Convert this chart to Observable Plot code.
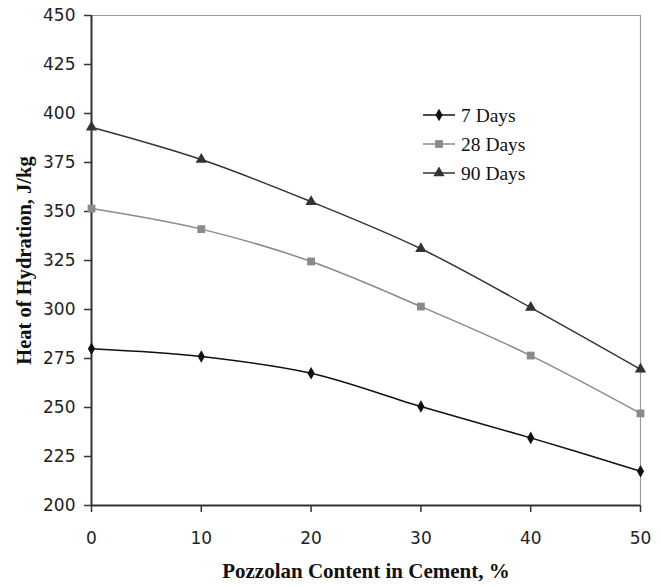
<!DOCTYPE html>
<html>
<head>
<meta charset="utf-8">
<script src="https://cdn.jsdelivr.net/npm/d3@7"></script>
<script src="https://cdn.jsdelivr.net/npm/@observablehq/plot@0.6"></script>
<style>
  html, body { margin: 0; padding: 0; background: #fff; }
  #wrap { position: relative; width: 661px; height: 587px; }
  #legend { position: absolute; left: 0; top: 0; }
</style>
</head>
<body>
<div id="wrap"></div>
<script>
// Data
const pozzolan = [0, 10, 20, 30, 40, 50];
const days7  = [280, 276, 267.5, 250.5, 234.5, 217.5];
const days28 = [351.5, 341, 324.5, 301.5, 276.5, 247];
const days90 = [393, 376.5, 355, 331, 301, 269.5];
const seriesNames = ["7 Days", "28 Days", "90 Days"];
const yTicks = [200, 225, 250, 275, 300, 325, 350, 375, 400, 425, 450];
const xTicks = [0, 10, 20, 30, 40, 50];
const xTitle = "Pozzolan Content in Cement, %";
const yTitle = "Heat of Hydration, J/kg";

const series = [
  {name: seriesNames[0], values: days7,  color: "#111111", symbol: "diamond", r: 3.8},
  {name: seriesNames[1], values: days28, color: "#8a8a8a", symbol: "square",  r: 4.4},
  {name: seriesNames[2], values: days90, color: "#333333", symbol: "triangle", r: 4.2}
];
const rows = series.flatMap(s => pozzolan.map((p, i) => ({x: p, y: s.values[i], name: s.name})));

const marks = [
  Plot.ruleY([450], {stroke: "#9a9a9a", strokeWidth: 1.2}),
  Plot.ruleX([50], {stroke: "#9a9a9a", strokeWidth: 1.2}),
  Plot.axisY({ticks: yTicks, tickSize: 7, tickPadding: 9, tickFormat: d => String(d), label: null,
    fontFamily: "DejaVu Sans", fontSize: 17, fill: "#222", stroke: "#333", strokeWidth: 1.5}),
  Plot.axisX({ticks: xTicks, tickSize: 7, tickPadding: 19, tickFormat: d => String(d), label: null,
    fontFamily: "DejaVu Sans", fontSize: 17, fill: "#222", stroke: "#333", strokeWidth: 1.5}),
  Plot.ruleX([0], {stroke: "#333", strokeWidth: 2}),
  Plot.ruleY([200], {stroke: "#333", strokeWidth: 2}),
];
for (const s of series) {
  const d = rows.filter(r => r.name === s.name);
  marks.push(Plot.line(d, {x: "x", y: "y", stroke: s.color, strokeWidth: 1.5, curve: "catmull-rom"}));
  marks.push(Plot.dot(d, {x: "x", y: "y", symbol: () => s.symbol, r: s.r, fill: s.color, stroke: "none"}));
}
marks.push(Plot.text([xTitle], {frameAnchor: "bottom", textAnchor: "middle", dy: 66, lineAnchor: "middle",
  fontFamily: "Liberation Serif", fontWeight: "bold", fontSize: 21, fill: "#111"}));
marks.push(Plot.text([yTitle], {frameAnchor: "left", textAnchor: "middle", dx: -67, rotate: -90, lineAnchor: "middle",
  fontFamily: "Liberation Serif", fontWeight: "bold", fontSize: 20.5, fill: "#111"}));

const chart = Plot.plot({
  width: 661,
  height: 587,
  marginLeft: 91,
  marginRight: 21,
  marginTop: 15,
  marginBottom: 82,
  x: {domain: [0, 50], type: "linear"},
  y: {domain: [200, 450], type: "linear"},
  style: {background: "#fff", overflow: "visible"},
  marks
});
const wrap = document.getElementById("wrap");
wrap.appendChild(chart);

// Legend (overlay)
const leg = d3.select(wrap).append("svg").attr("id", "legend").attr("width", 661).attr("height", 587);
const symMap = {diamond: d3.symbolDiamond, square: d3.symbolSquare, triangle: d3.symbolTriangle};
series.forEach((s, i) => {
  const cy = 115 + i * 29;
  const g = leg.append("g");
  g.append("line").attr("x1", 423).attr("x2", 455).attr("y1", cy).attr("y2", cy)
    .attr("stroke", s.color).attr("stroke-width", 1.5);
  g.append("path").attr("d", d3.symbol(symMap[s.symbol], Math.PI * s.r * s.r)())
    .attr("transform", `translate(439,${cy})`).attr("fill", s.color);
  g.append("text").attr("x", 461).attr("y", cy).attr("dy", "0.35em")
    .attr("font-family", "Liberation Serif").attr("font-size", 19.5).attr("fill", "#111")
    .text(s.name);
});
</script>
</body>
</html>
